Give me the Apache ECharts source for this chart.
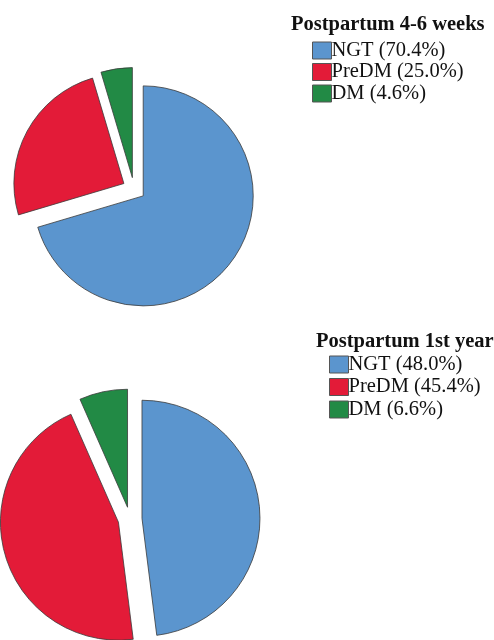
<!DOCTYPE html>
<html>
<head>
<meta charset="utf-8">
<script src="https://cdn.jsdelivr.net/npm/echarts@6/dist/echarts.min.js"></script>
<style>
html,body{margin:0;padding:0;background:#fff;}
#chart{width:494px;height:640px;}
</style>
</head>
<body>
<div id="chart"></div>
<script>
const categories = ['NGT', 'PreDM', 'DM'];
const weeksValues = [70.4, 25.0, 4.6];
const yearValues = [48.0, 45.4, 6.6];
const titles = ['Postpartum 4-6 weeks', 'Postpartum 1st year'];
const colors = ['#5b95ce', '#e31b38', '#228a45'];

function makeData(values) {
  return categories.map((c, i) => ({
    name: c + ' (' + values[i].toFixed(1) + '%)',
    value: values[i],
    selected: true,
    itemStyle: { color: colors[i] }
  }));
}
const weeksData = makeData(weeksValues);
const yearData = makeData(yearValues);

const chart = echarts.init(document.getElementById('chart'));
const serif = '"Liberation Serif", "Times New Roman", serif';
const legendBase = {
  orient: 'vertical',
  icon: 'rect',
  padding: 0,
  itemWidth: 19,
  itemHeight: 17,
  itemGap: 0.5,
  selectedMode: false,
  itemStyle: { borderColor: '#555', borderWidth: 1 },
  textStyle: { fontFamily: serif, fontSize: 20.5, color: '#111', lineHeight: 17, padding: [0, 0, 0, -5] }
};
const titleStyle = { fontFamily: serif, fontWeight: 'bold', fontSize: 20.5, color: '#111' };
chart.setOption({
  animation: false,
  title: [
    { text: titles[0], left: 291, top: 14, padding: 0, textStyle: titleStyle },
    { text: titles[1], left: 316, top: 331, padding: 0, textStyle: titleStyle }
  ],
  legend: [
    Object.assign({}, legendBase, { left: 312, top: 40, data: weeksData.map(d => d.name) }),
    Object.assign({}, legendBase, { left: 329, top: 354, itemGap: 1.5, data: yearData.map(d => d.name) })
  ],
  series: [
    {
      type: 'pie',
      center: [134, 189],
      radius: 110,
      startAngle: 90,
      clockwise: true,
      selectedMode: 'multiple',
      selectedOffset: 11.5,
      label: { show: false },
      labelLine: { show: false },
      itemStyle: { borderColor: '#3a3a3a', borderWidth: 0.8 },
      emphasis: { disabled: true },
      data: weeksData
    },
    {
      type: 'pie',
      center: [130, 519],
      radius: 118,
      startAngle: 90,
      clockwise: true,
      selectedMode: 'multiple',
      selectedOffset: 12,
      label: { show: false },
      labelLine: { show: false },
      itemStyle: { borderColor: '#3a3a3a', borderWidth: 0.8 },
      emphasis: { disabled: true },
      data: yearData
    }
  ]
});
</script>
</body>
</html>
